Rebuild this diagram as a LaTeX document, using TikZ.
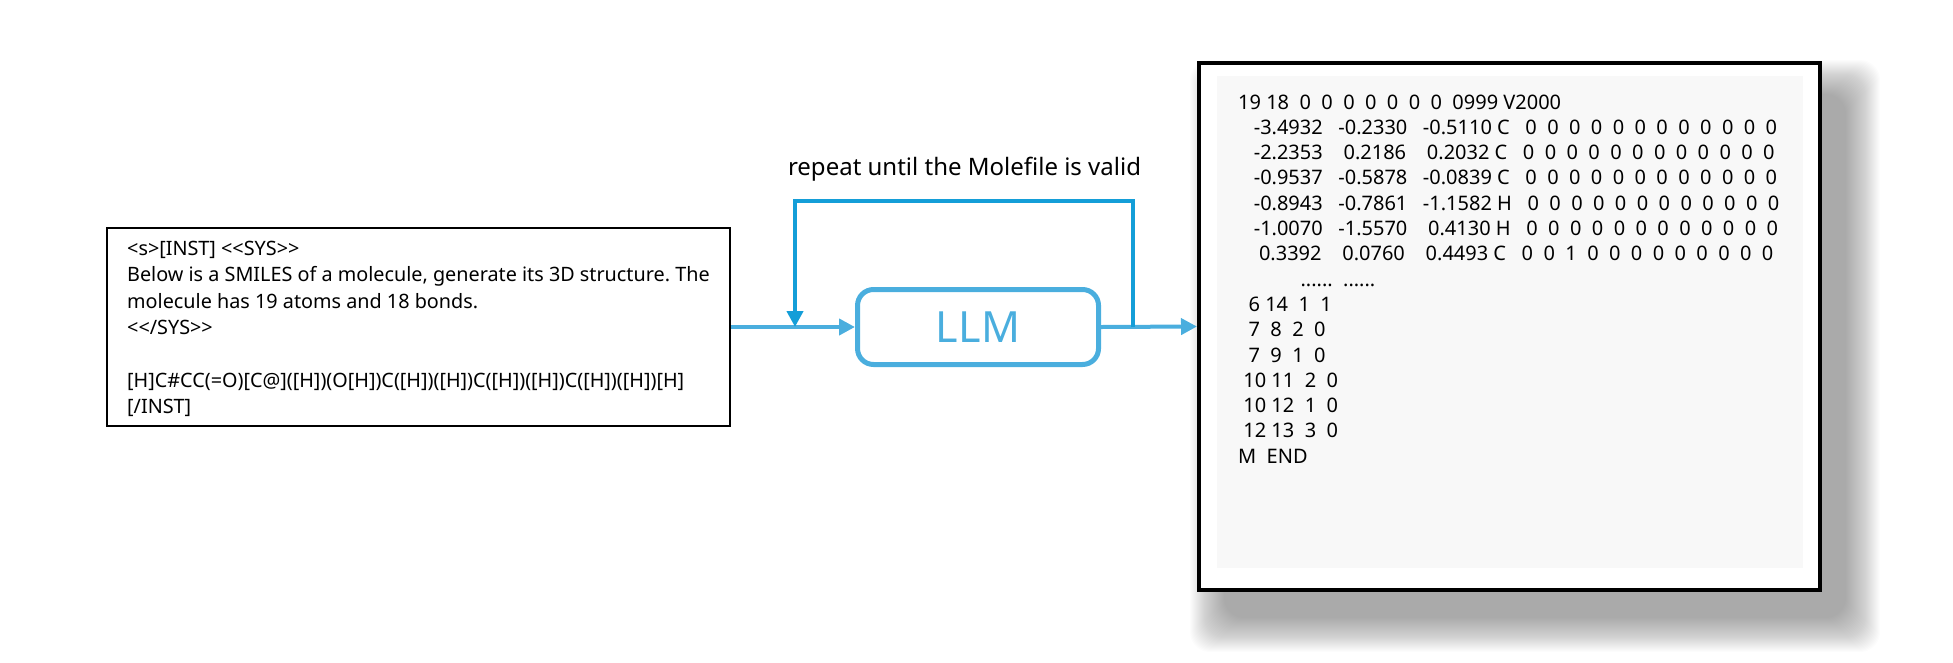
\documentclass[tikz,border=0pt]{standalone}
\usepackage{fontspec}
\newfontfamily\diagfont{Noto Sans}
\usetikzlibrary{arrows.meta,positioning,calc}
\definecolor{llmblue}{RGB}{74,174,222}
\definecolor{loopblue}{RGB}{20,158,216}
\definecolor{panelgray}{RGB}{248,248,248}
\newcommand\molzeros{~~~0~~0~~0~~0~~0~~0~~0~~0~~0~~0~~0~~0}
\newcommand\moldots{~~~~~~~~~~~~......~~......}
\frenchspacing
\tikzset{
    promptbox/.style={draw=black, line width=2pt, minimum width=623pt, minimum height=198pt, inner sep=0pt},
    prompttext/.style={align=left, inner sep=0pt, font=\diagfont\fontsize{19.8}{26.4}\selectfont},
    llmbox/.style={draw=llmblue, line width=5pt, rounded corners=16pt, minimum width=241pt, minimum height=75pt, text=llmblue, font=\diagfont\fontsize{43}{50}\selectfont},
    looptext/.style={inner sep=0pt, font=\diagfont\fontsize{24}{28}\selectfont},
    flow/.style={draw=llmblue, line width=4pt, -{Triangle[length=16pt,width=16pt]}},
    loopline/.style={draw=loopblue, line width=4pt, -{Triangle[length=16pt,width=16pt]}},
    molbox/.style={draw=black, fill=white, line width=4pt, minimum width=621pt, minimum height=527pt},
    moltext/.style={anchor=base west, inner sep=0pt, font=\diagfont\fontsize{20}{24}\selectfont},
}
\begin{document}
\begin{tikzpicture}[x=1pt, y=-1pt]
    \useasboundingbox (0,0) rectangle (1953,662);
    % prompt
    \node[promptbox] (prompt) at (418.5,327) {};
    \node[prompttext, anchor=north west] (prompttxt) at (127,241) {<s>[INST] <<SYS>>\\Below is a SMILES of a molecule, generate its 3D structure. The\\molecule has 19 atoms and 18 bonds.\\<</SYS>>\\[26.4pt][H]C\#CC(=O)[C@]([H])(O[H])C([H])([H])C([H])([H])C([H])([H])[H]\\{}[/INST]};
    % model
    \node[llmbox] (llm) at (978,327) {LLM};
    % molfile with soft shadow
    \foreach \k in {0,...,34}
        \fill[black, opacity=0.01, rounded corners=20pt] (1190+\k,60+\k) rectangle (1880-\k,652-\k);
    \node[molbox] (molfile) at (1509.5,326.5) {};
    \fill[panelgray] (1217,76) rectangle (1803,568);
    \foreach \row [count=\i from 0] in {19~18~~0~~0~~0~~0~~0~~0~~0~~0999~V2000,
        ~~~-3.4932~~~-0.2330~~~-0.5110~C\molzeros,
        ~~~-2.2353~~~~0.2186~~~~0.2032~C\molzeros,
        ~~~-0.9537~~~-0.5878~~~-0.0839~C\molzeros,
        ~~~-0.8943~~~-0.7861~~~-1.1582~H\molzeros,
        ~~~-1.0070~~~-1.5570~~~~0.4130~H\molzeros,
        ~~~~0.3392~~~~0.0760~~~~0.4493~C~~~0~~0~~1~~0~~0~~0~~0~~0~~0~~0~~0~~0,
        \moldots,
        ~~6~14~~1~~1, ~~7~~8~~2~~0, ~~7~~9~~1~~0, ~10~11~~2~~0, ~10~12~~1~~0, ~12~13~~3~~0,
        M~~END}
        \node[moltext] (mol\i) at (1238,{109+25.3*\i}) {\row};
    % connectors
    \coordinate (merge) at (795,327);
    \coordinate (split) at (1133,327);
    \draw[flow] (prompt.east) -- (llm.west);
    \draw[flow] (llm.east) -- (molfile.west);
    \draw[loopline] (split) -- ++(0,-126) -| (merge);
    \node[looptext, anchor=base] (looplabel) at (964.5,175) {repeat until the Molefile is valid};
\end{tikzpicture}
\end{document}
